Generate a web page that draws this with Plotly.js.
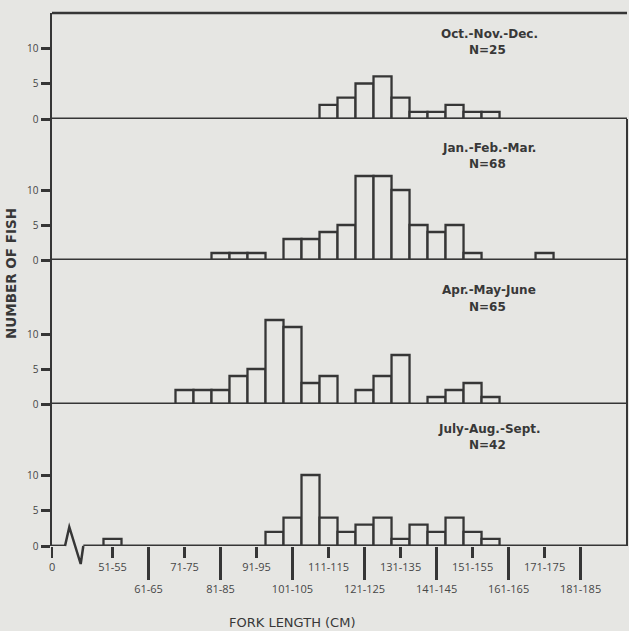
<!DOCTYPE html>
<html><head><meta charset="utf-8">
<script src="https://cdn.plot.ly/plotly-3.0.1.min.js"></script>
<style>html,body{margin:0;padding:0;background:#e6e6e3;}</style>
</head><body>
<div id="chart" style="width:629px;height:631px;"></div>
<script>
// ---- data ----
const binLabels = ["51-55","56-60","61-65","66-70","71-75","76-80","81-85","86-90","91-95","96-100",
  "101-105","106-110","111-115","116-120","121-125","126-130","131-135","136-140","141-145","146-150",
  "151-155","156-160","161-165","166-170","171-175"];
const octNovDec  = [0,0,0,0,0,0,0,0,0,0, 0,0,2,3,5,6,3,1,1,2, 1,1,0,0,0];
const janFebMar  = [0,0,0,0,0,0,1,1,1,0, 3,3,4,5,12,12,10,5,4,5, 1,0,0,0,1];
const aprMayJune = [0,0,0,0,2,2,2,4,5,12, 11,3,4,0,2,4,7,0,1,2, 3,1,0,0,0];
const julAugSept = [1,0,0,0,0,0,0,0,0,2, 4,10,4,2,3,4,1,3,2,4, 2,1,0,0,0];
const panelTitles = ["Oct.-Nov.-Dec.","Jan.-Feb.-Mar.","Apr.-May-June","July-Aug.-Sept."];
const panelN = ["N=25","N=68","N=65","N=42"];
const shortTickLabels = ["0","51-55","71-75","91-95","111-115","131-135","151-155","171-175"];
const longTickLabels = ["61-65","81-85","101-105","121-125","141-145","161-165","181-185"];
const yTickVals = [0,5,10];

// ---- helpers ----
const BG = '#e6e6e3', INK = '#363636', TXT = '#383838';
const L = 52, R = 627, T = 13, B = 546;
const px = x => (x - L) / (R - L);
const py = y => (B - y) / (B - T);
const mid = s => { const p = s.split('-').map(Number); return (p[0] + p[1]) / 2; };
const X_MIN = 36.2, X_MAX = 195.9;       // axis break: "0" sits at the left edge
const zeroPos = X_MIN + 0.05;

const series = [octNovDec, janFebMar, aprMayJune, julAugSept];
const panelPx = [[13,119],[119,260],[260,404],[404,546]];
const unitPx = [7.1, 7.0, 7.0, 7.1];
const yNames = ['y','y2','y3','y4'];
const titleY = [34, 148, 290, 429];
const nY = [50, 164, 307, 445];

const traces = series.map((vals, i) => {
  const xs = [], ys = [];
  vals.forEach((v, k) => { if (v > 0) { xs.push(mid(binLabels[k])); ys.push(v); } });
  return {type:'bar', x: xs, y: ys, width: 5, xaxis:'x', yaxis: yNames[i],
    marker:{color: BG, line:{color: INK, width: 2.3}}, hoverinfo:'skip', showlegend:false};
});
traces.push({type:'scatter', mode:'markers', x:[100], y:[0], xaxis:'x2', yaxis:'y4',
  marker:{opacity:0}, hoverinfo:'skip', showlegend:false});

const tickFont = {size: 11, color: '#474747', family: 'Open Sans, sans-serif'};
const layout = {
  width: 629, height: 631, paper_bgcolor: BG, plot_bgcolor: BG,
  margin: {l: L, r: 629 - R, t: T, b: 631 - B},
  bargap: 0, showlegend: false,
  font: {family: 'Open Sans, DejaVu Sans, sans-serif', color: TXT},
  xaxis: {range: [X_MIN, X_MAX], anchor: 'y4', showgrid: false, zeroline: false, showline: false,
    tickmode: 'array', tickvals: [zeroPos].concat(shortTickLabels.slice(1).map(mid)), ticktext: shortTickLabels,
    ticks: 'outside', ticklen: 11, tickwidth: 2.5, tickcolor: INK, tickfont: tickFont},
  xaxis2: {range: [X_MIN, X_MAX], overlaying: 'x', anchor: 'y4', side: 'bottom', showgrid: false,
    zeroline: false, showline: false,
    tickmode: 'array', tickvals: longTickLabels.map(mid), ticktext: longTickLabels,
    ticks: 'outside', ticklen: 33, tickwidth: 2.5, tickcolor: INK, tickfont: tickFont},
  shapes: [], annotations: []
};

const labFont = {size: 12, color: TXT, family: 'DejaVu Sans, sans-serif', weight: 'bold'};
panelPx.forEach((p, i) => {
  const key = i === 0 ? 'yaxis' : 'yaxis' + (i + 1);
  layout[key] = {domain: [py(p[1]), py(p[0])], range: [0, (p[1] - p[0]) / unitPx[i]], anchor: 'x',
    showgrid: false, zeroline: false, showline: true, linewidth: 2.5, linecolor: INK,
    tickmode: 'array', tickvals: yTickVals, ticks: 'outside', ticklen: 9, tickwidth: 3, tickcolor: INK,
    tickfont: {size: 10, color: '#444', family: 'Open Sans, sans-serif'}};
  if (i < 3) {
    layout.shapes.push({type:'line', xref:'paper', yref: yNames[i], x0: 0, x1: 1, y0: 0, y1: 0,
      line:{color: INK, width: 2.8}, layer:'above'});
  }
  layout.annotations.push({xref:'paper', yref:'paper', x: px(489), y: py(titleY[i]),
    xanchor:'center', yanchor:'middle', text: panelTitles[i], showarrow:false, font: labFont});
  layout.annotations.push({xref:'paper', yref:'paper', x: px(487), y: py(nY[i]),
    xanchor:'center', yanchor:'middle', text: panelN[i], showarrow:false, font: labFont});
});

// frame: top border and right border
layout.shapes.push({type:'line', xref:'paper', yref:'paper', x0: 0, x1: 1, y0: 1, y1: 1, line:{color: INK, width: 2.5}});
layout.shapes.push({type:'line', xref:'paper', yref:'paper', x0: 1, x1: 1, y0: 0, y1: py(119), line:{color: INK, width: 2}});
// bottom baseline with axis break
layout.shapes.push({type:'line', xref:'paper', yref:'y4', x0: 0, x1: px(65), y0: 0, y1: 0, line:{color: INK, width: 2.8}, layer:'above'});
layout.shapes.push({type:'path', xref:'paper', yref:'paper',
  path: `M ${px(65)} ${py(546)} L ${px(69.3)} ${py(527)} L ${px(80.7)} ${py(564)} L ${px(83.3)} ${py(546)}`,
  line:{color: INK, width: 2.5}, layer:'above'});
layout.shapes.push({type:'line', xref:'paper', yref:'y4', x0: px(83.3), x1: 1, y0: 0, y1: 0, line:{color: INK, width: 2.8}, layer:'above'});

// axis titles
layout.annotations.push({xref:'paper', yref:'paper', x: px(11), y: py(274), xanchor:'center', yanchor:'middle',
  textangle: -90, text: 'NUMBER OF FISH', showarrow:false,
  font:{size: 13.5, color: TXT, family:'DejaVu Sans, sans-serif', weight:'bold'}});
layout.annotations.push({xref:'paper', yref:'paper', x: px(292), y: py(622), xanchor:'center', yanchor:'middle',
  text: 'FORK LENGTH (CM)', showarrow:false,
  font:{size: 13, color: TXT, family:'DejaVu Sans, sans-serif'}});

Plotly.newPlot('chart', traces, layout, {staticPlot: true, displayModeBar: false});
</script>
</body></html>
